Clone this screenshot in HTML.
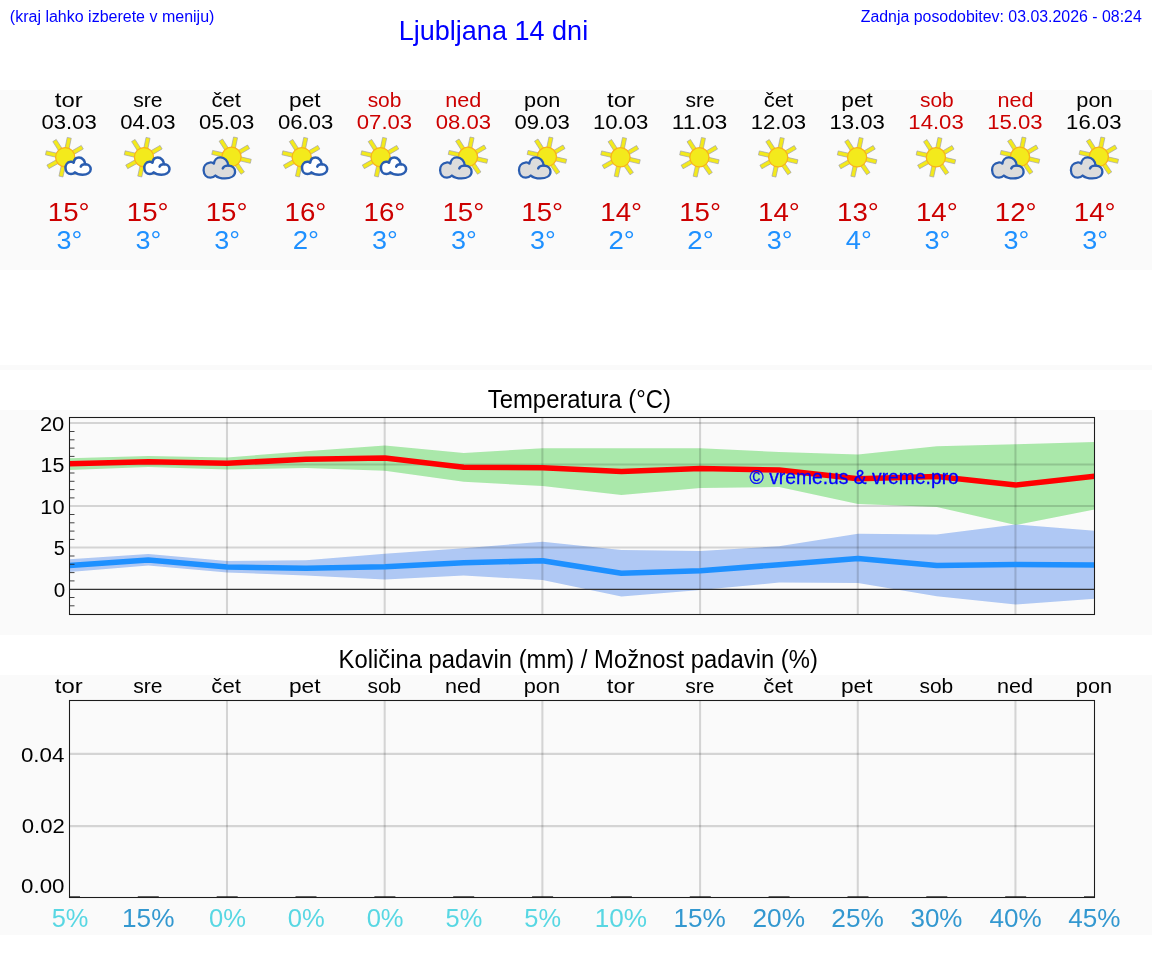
<!DOCTYPE html>
<html><head><meta charset="utf-8"><title>Ljubljana 14 dni</title>
<style>
html,body{margin:0;padding:0;background:#fff}
body{width:1152px;height:975px;position:relative;overflow:hidden;font-family:"Liberation Sans",sans-serif}
.b{position:absolute;left:0;width:1152px;background:#fafafa}
#tx{position:absolute;left:0;top:0;width:1152px;height:975px;will-change:transform}
.t{position:absolute;left:0;top:0;white-space:nowrap;transform-origin:0 0;font-family:"Liberation Sans",sans-serif}
svg{position:absolute;left:0;top:0}
</style></head><body>
<div class="b" style="top:90px;height:180px"></div>
<div class="b" style="top:365px;height:5px"></div>
<div class="b" style="top:410px;height:225px"></div>
<div class="b" style="top:675px;height:260px"></div>
<svg width="1152" height="975" viewBox="0 0 1152 975">
<clipPath id="cl"><rect x="69.5" y="417.5" width="1025.0" height="197.0"/></clipPath>
<g clip-path="url(#cl)">
<polygon points="69.5,458.25 148.3,455.9 227.2,457.5 306.0,451.25 384.9,445.5 463.7,453 542.6,448.25 621.4,448.25 700.3,448.25 779.1,452 858.0,454.5 936.8,446.25 1015.7,444.25 1094.5,442 1094.5,509.5 1015.7,525 936.8,507 858.0,504 779.1,487 700.3,488 621.4,495 542.6,486 463.7,481.75 384.9,470.75 306.0,468 227.2,469.5 148.3,467 69.5,470" fill="#32cd32" fill-opacity="0.4"/>
<polygon points="69.5,559.25 148.3,554 227.2,561 306.0,560.25 384.9,553.75 463.7,548.25 542.6,541.75 621.4,550 700.3,551 779.1,546.25 858.0,533.75 936.8,534.5 1015.7,524.5 1094.5,530.75 1094.5,598.75 1015.7,604.5 936.8,596.25 858.0,583 779.1,582.5 700.3,590 621.4,596.5 542.6,580 463.7,575.5 384.9,579.5 306.0,575.5 227.2,572.5 148.3,565.5 69.5,572" fill="#6495ed" fill-opacity="0.5"/>
<line x1="69.5" x2="1094.5" y1="547.50" y2="547.50" stroke="#000" stroke-opacity="0.15" stroke-width="2.08"/>
<line x1="69.5" x2="1094.5" y1="506.00" y2="506.00" stroke="#000" stroke-opacity="0.15" stroke-width="2.08"/>
<line x1="69.5" x2="1094.5" y1="464.50" y2="464.50" stroke="#000" stroke-opacity="0.15" stroke-width="2.08"/>
<line x1="69.5" x2="1094.5" y1="423.00" y2="423.00" stroke="#000" stroke-opacity="0.15" stroke-width="2.08"/>
<line x1="226.99" x2="226.99" y1="417.5" y2="614.5" stroke="#000" stroke-opacity="0.15" stroke-width="2.08"/>
<line x1="384.68" x2="384.68" y1="417.5" y2="614.5" stroke="#000" stroke-opacity="0.15" stroke-width="2.08"/>
<line x1="542.38" x2="542.38" y1="417.5" y2="614.5" stroke="#000" stroke-opacity="0.15" stroke-width="2.08"/>
<line x1="700.07" x2="700.07" y1="417.5" y2="614.5" stroke="#000" stroke-opacity="0.15" stroke-width="2.08"/>
<line x1="857.76" x2="857.76" y1="417.5" y2="614.5" stroke="#000" stroke-opacity="0.15" stroke-width="2.08"/>
<line x1="1015.45" x2="1015.45" y1="417.5" y2="614.5" stroke="#000" stroke-opacity="0.15" stroke-width="2.08"/>
<line x1="69.5" x2="1094.5" y1="589.4" y2="589.4" stroke="#333" stroke-width="1.15"/>
<polyline points="69.5,463.75 148.3,461.65 227.2,463.25 306.0,459.25 384.9,458 463.7,467.25 542.6,467.75 621.4,471.5 700.3,468.5 779.1,470 858.0,478.75 936.8,476.5 1015.7,485 1094.5,476.25" fill="none" stroke="#ff0000" stroke-width="5.55" stroke-linejoin="round"/>
<polyline points="69.5,565.5 148.3,560 227.2,567 306.0,568.25 384.9,566.75 463.7,562.75 542.6,560.75 621.4,573.25 700.3,570.75 779.1,564.75 858.0,558.5 936.8,565.5 1015.7,564.5 1094.5,565" fill="none" stroke="#1e90ff" stroke-width="5.55" stroke-linejoin="round"/>
</g>
<line x1="69.5" x2="74.5" y1="605.80" y2="605.80" stroke="#222" stroke-width="0.85"/>
<line x1="69.5" x2="74.5" y1="597.50" y2="597.50" stroke="#222" stroke-width="0.85"/>
<line x1="69.5" x2="74.5" y1="580.90" y2="580.90" stroke="#222" stroke-width="0.85"/>
<line x1="69.5" x2="74.5" y1="572.60" y2="572.60" stroke="#222" stroke-width="0.85"/>
<line x1="69.5" x2="74.5" y1="564.30" y2="564.30" stroke="#222" stroke-width="0.85"/>
<line x1="69.5" x2="74.5" y1="556.00" y2="556.00" stroke="#222" stroke-width="0.85"/>
<line x1="69.5" x2="74.5" y1="539.40" y2="539.40" stroke="#222" stroke-width="0.85"/>
<line x1="69.5" x2="74.5" y1="531.10" y2="531.10" stroke="#222" stroke-width="0.85"/>
<line x1="69.5" x2="74.5" y1="522.80" y2="522.80" stroke="#222" stroke-width="0.85"/>
<line x1="69.5" x2="74.5" y1="514.50" y2="514.50" stroke="#222" stroke-width="0.85"/>
<line x1="69.5" x2="74.5" y1="497.90" y2="497.90" stroke="#222" stroke-width="0.85"/>
<line x1="69.5" x2="74.5" y1="489.60" y2="489.60" stroke="#222" stroke-width="0.85"/>
<line x1="69.5" x2="74.5" y1="481.30" y2="481.30" stroke="#222" stroke-width="0.85"/>
<line x1="69.5" x2="74.5" y1="473.00" y2="473.00" stroke="#222" stroke-width="0.85"/>
<line x1="69.5" x2="74.5" y1="456.40" y2="456.40" stroke="#222" stroke-width="0.85"/>
<line x1="69.5" x2="74.5" y1="448.10" y2="448.10" stroke="#222" stroke-width="0.85"/>
<line x1="69.5" x2="74.5" y1="439.80" y2="439.80" stroke="#222" stroke-width="0.85"/>
<line x1="69.5" x2="74.5" y1="431.50" y2="431.50" stroke="#222" stroke-width="0.85"/>
<rect x="69.5" y="417.5" width="1025.0" height="197.0" fill="none" stroke="#1c1c1c" stroke-width="1.08"/>
<line x1="69.5" x2="1094.5" y1="753.9" y2="753.9" stroke="#000" stroke-opacity="0.15" stroke-width="2.08"/>
<line x1="69.5" x2="1094.5" y1="826.1" y2="826.1" stroke="#000" stroke-opacity="0.15" stroke-width="2.08"/>
<line x1="226.99" x2="226.99" y1="700.5" y2="897.5" stroke="#000" stroke-opacity="0.15" stroke-width="2.08"/>
<line x1="384.68" x2="384.68" y1="700.5" y2="897.5" stroke="#000" stroke-opacity="0.15" stroke-width="2.08"/>
<line x1="542.38" x2="542.38" y1="700.5" y2="897.5" stroke="#000" stroke-opacity="0.15" stroke-width="2.08"/>
<line x1="700.07" x2="700.07" y1="700.5" y2="897.5" stroke="#000" stroke-opacity="0.15" stroke-width="2.08"/>
<line x1="857.76" x2="857.76" y1="700.5" y2="897.5" stroke="#000" stroke-opacity="0.15" stroke-width="2.08"/>
<line x1="1015.45" x2="1015.45" y1="700.5" y2="897.5" stroke="#000" stroke-opacity="0.15" stroke-width="2.08"/>
<line x1="69.5" x2="80.0" y1="896.7" y2="896.7" stroke="#111" stroke-width="0.8"/>
<line x1="137.8" x2="158.8" y1="896.7" y2="896.7" stroke="#111" stroke-width="0.8"/>
<line x1="216.7" x2="237.7" y1="896.7" y2="896.7" stroke="#111" stroke-width="0.8"/>
<line x1="295.5" x2="316.5" y1="896.7" y2="896.7" stroke="#111" stroke-width="0.8"/>
<line x1="374.4" x2="395.4" y1="896.7" y2="896.7" stroke="#111" stroke-width="0.8"/>
<line x1="453.2" x2="474.2" y1="896.7" y2="896.7" stroke="#111" stroke-width="0.8"/>
<line x1="532.1" x2="553.1" y1="896.7" y2="896.7" stroke="#111" stroke-width="0.8"/>
<line x1="610.9" x2="631.9" y1="896.7" y2="896.7" stroke="#111" stroke-width="0.8"/>
<line x1="689.8" x2="710.8" y1="896.7" y2="896.7" stroke="#111" stroke-width="0.8"/>
<line x1="768.6" x2="789.6" y1="896.7" y2="896.7" stroke="#111" stroke-width="0.8"/>
<line x1="847.5" x2="868.5" y1="896.7" y2="896.7" stroke="#111" stroke-width="0.8"/>
<line x1="926.3" x2="947.3" y1="896.7" y2="896.7" stroke="#111" stroke-width="0.8"/>
<line x1="1005.2" x2="1026.2" y1="896.7" y2="896.7" stroke="#111" stroke-width="0.8"/>
<line x1="1084.0" x2="1094.5" y1="896.7" y2="896.7" stroke="#111" stroke-width="0.8"/>
<rect x="69.5" y="700.5" width="1025.0" height="197.0" fill="none" stroke="#1c1c1c" stroke-width="1.08"/>
<g transform="translate(65.2,157.2)"><rect x="9.1" y="-2.05" width="10.70" height="4.1" fill="#f3ea1c" stroke="#9c9cae" stroke-opacity="0.75" stroke-width="0.8" transform="rotate(-78.2)"/><rect x="9.1" y="-2.05" width="10.70" height="4.1" fill="#f3ea1c" stroke="#9c9cae" stroke-opacity="0.75" stroke-width="0.8" transform="rotate(-30.3)"/><rect x="9.1" y="-2.05" width="10.70" height="4.1" fill="#f3ea1c" stroke="#9c9cae" stroke-opacity="0.75" stroke-width="0.8" transform="rotate(13.1)"/><rect x="9.1" y="-2.05" width="10.70" height="4.1" fill="#f3ea1c" stroke="#9c9cae" stroke-opacity="0.75" stroke-width="0.8" transform="rotate(55.5)"/><rect x="9.1" y="-2.05" width="10.70" height="4.1" fill="#f3ea1c" stroke="#9c9cae" stroke-opacity="0.75" stroke-width="0.8" transform="rotate(102.4)"/><rect x="9.1" y="-2.05" width="10.70" height="4.1" fill="#f3ea1c" stroke="#9c9cae" stroke-opacity="0.75" stroke-width="0.8" transform="rotate(150.8)"/><rect x="9.1" y="-2.05" width="10.70" height="4.1" fill="#f3ea1c" stroke="#9c9cae" stroke-opacity="0.75" stroke-width="0.8" transform="rotate(192.8)"/><rect x="9.1" y="-2.05" width="10.70" height="4.1" fill="#f3ea1c" stroke="#9c9cae" stroke-opacity="0.75" stroke-width="0.8" transform="rotate(237.4)"/><circle r="9.6" fill="#f3ea1c" stroke="#f9b31a" stroke-width="1.3"/></g>
<g transform="translate(65.5,157.6) scale(0.2520,0.2565)"><path d="M32.7,20 C29.1,16.4 24.2,15.2 19.4,16.4 C7.3,18.2 -0.6,28.5 0,40.6 C0.6,55.2 9.7,64.2 21.8,64.2 C28.5,64.2 33.9,61.8 37.6,57.6 C43.6,63 54.5,66.7 67.9,66.7 C86.1,66.7 100,58.8 100,45.5 C100,34.5 90.9,26.7 80,26.1 C78.8,26.1 78.2,25.5 77.6,24.2 C77,12.7 67.9,0 53.3,0 C41.2,0 33.9,9.1 32.7,20 Z" fill="#ffffff" stroke="#2a5db0" stroke-width="9.92" stroke-linejoin="round"/><path d="M80,26.1 C71.5,25.5 63,28.5 60.6,35.2" fill="none" stroke="#2a5db0" stroke-width="9.92" stroke-linecap="round"/></g>
<g transform="translate(144.0,157.2)"><rect x="9.1" y="-2.05" width="10.70" height="4.1" fill="#f3ea1c" stroke="#9c9cae" stroke-opacity="0.75" stroke-width="0.8" transform="rotate(-78.2)"/><rect x="9.1" y="-2.05" width="10.70" height="4.1" fill="#f3ea1c" stroke="#9c9cae" stroke-opacity="0.75" stroke-width="0.8" transform="rotate(-30.3)"/><rect x="9.1" y="-2.05" width="10.70" height="4.1" fill="#f3ea1c" stroke="#9c9cae" stroke-opacity="0.75" stroke-width="0.8" transform="rotate(13.1)"/><rect x="9.1" y="-2.05" width="10.70" height="4.1" fill="#f3ea1c" stroke="#9c9cae" stroke-opacity="0.75" stroke-width="0.8" transform="rotate(55.5)"/><rect x="9.1" y="-2.05" width="10.70" height="4.1" fill="#f3ea1c" stroke="#9c9cae" stroke-opacity="0.75" stroke-width="0.8" transform="rotate(102.4)"/><rect x="9.1" y="-2.05" width="10.70" height="4.1" fill="#f3ea1c" stroke="#9c9cae" stroke-opacity="0.75" stroke-width="0.8" transform="rotate(150.8)"/><rect x="9.1" y="-2.05" width="10.70" height="4.1" fill="#f3ea1c" stroke="#9c9cae" stroke-opacity="0.75" stroke-width="0.8" transform="rotate(192.8)"/><rect x="9.1" y="-2.05" width="10.70" height="4.1" fill="#f3ea1c" stroke="#9c9cae" stroke-opacity="0.75" stroke-width="0.8" transform="rotate(237.4)"/><circle r="9.6" fill="#f3ea1c" stroke="#f9b31a" stroke-width="1.3"/></g>
<g transform="translate(144.3,157.6) scale(0.2520,0.2565)"><path d="M32.7,20 C29.1,16.4 24.2,15.2 19.4,16.4 C7.3,18.2 -0.6,28.5 0,40.6 C0.6,55.2 9.7,64.2 21.8,64.2 C28.5,64.2 33.9,61.8 37.6,57.6 C43.6,63 54.5,66.7 67.9,66.7 C86.1,66.7 100,58.8 100,45.5 C100,34.5 90.9,26.7 80,26.1 C78.8,26.1 78.2,25.5 77.6,24.2 C77,12.7 67.9,0 53.3,0 C41.2,0 33.9,9.1 32.7,20 Z" fill="#ffffff" stroke="#2a5db0" stroke-width="9.92" stroke-linejoin="round"/><path d="M80,26.1 C71.5,25.5 63,28.5 60.6,35.2" fill="none" stroke="#2a5db0" stroke-width="9.92" stroke-linecap="round"/></g>
<g transform="translate(231.5,156.8)"><rect x="9.1" y="-2.05" width="10.70" height="4.1" fill="#f3ea1c" stroke="#9c9cae" stroke-opacity="0.75" stroke-width="0.8" transform="rotate(-78.2)"/><rect x="9.1" y="-2.05" width="10.70" height="4.1" fill="#f3ea1c" stroke="#9c9cae" stroke-opacity="0.75" stroke-width="0.8" transform="rotate(-30.3)"/><rect x="9.1" y="-2.05" width="10.70" height="4.1" fill="#f3ea1c" stroke="#9c9cae" stroke-opacity="0.75" stroke-width="0.8" transform="rotate(13.1)"/><rect x="9.1" y="-2.05" width="10.70" height="4.1" fill="#f3ea1c" stroke="#9c9cae" stroke-opacity="0.75" stroke-width="0.8" transform="rotate(55.5)"/><rect x="9.1" y="-2.05" width="10.70" height="4.1" fill="#f3ea1c" stroke="#9c9cae" stroke-opacity="0.75" stroke-width="0.8" transform="rotate(102.4)"/><rect x="9.1" y="-2.05" width="10.70" height="4.1" fill="#f3ea1c" stroke="#9c9cae" stroke-opacity="0.75" stroke-width="0.8" transform="rotate(150.8)"/><rect x="9.1" y="-2.05" width="10.70" height="4.1" fill="#f3ea1c" stroke="#9c9cae" stroke-opacity="0.75" stroke-width="0.8" transform="rotate(192.8)"/><rect x="9.1" y="-2.05" width="10.70" height="4.1" fill="#f3ea1c" stroke="#9c9cae" stroke-opacity="0.75" stroke-width="0.8" transform="rotate(237.4)"/><circle r="9.6" fill="#f3ea1c" stroke="#f9b31a" stroke-width="1.3"/></g>
<g transform="translate(203.6,157.4) scale(0.3150,0.3150)"><path d="M32.7,20 C29.1,16.4 24.2,15.2 19.4,16.4 C7.3,18.2 -0.6,28.5 0,40.6 C0.6,55.2 9.7,64.2 21.8,64.2 C28.5,64.2 33.9,61.8 37.6,57.6 C43.6,63 54.5,66.7 67.9,66.7 C86.1,66.7 100,58.8 100,45.5 C100,34.5 90.9,26.7 80,26.1 C78.8,26.1 78.2,25.5 77.6,24.2 C77,12.7 67.9,0 53.3,0 C41.2,0 33.9,9.1 32.7,20 Z" fill="#dcdcdc" stroke="#2a5db0" stroke-width="7.30" stroke-linejoin="round"/><path d="M80,26.1 C71.5,25.5 63,28.5 60.6,35.2" fill="none" stroke="#2a5db0" stroke-width="7.30" stroke-linecap="round"/></g>
<g transform="translate(301.7,157.2)"><rect x="9.1" y="-2.05" width="10.70" height="4.1" fill="#f3ea1c" stroke="#9c9cae" stroke-opacity="0.75" stroke-width="0.8" transform="rotate(-78.2)"/><rect x="9.1" y="-2.05" width="10.70" height="4.1" fill="#f3ea1c" stroke="#9c9cae" stroke-opacity="0.75" stroke-width="0.8" transform="rotate(-30.3)"/><rect x="9.1" y="-2.05" width="10.70" height="4.1" fill="#f3ea1c" stroke="#9c9cae" stroke-opacity="0.75" stroke-width="0.8" transform="rotate(13.1)"/><rect x="9.1" y="-2.05" width="10.70" height="4.1" fill="#f3ea1c" stroke="#9c9cae" stroke-opacity="0.75" stroke-width="0.8" transform="rotate(55.5)"/><rect x="9.1" y="-2.05" width="10.70" height="4.1" fill="#f3ea1c" stroke="#9c9cae" stroke-opacity="0.75" stroke-width="0.8" transform="rotate(102.4)"/><rect x="9.1" y="-2.05" width="10.70" height="4.1" fill="#f3ea1c" stroke="#9c9cae" stroke-opacity="0.75" stroke-width="0.8" transform="rotate(150.8)"/><rect x="9.1" y="-2.05" width="10.70" height="4.1" fill="#f3ea1c" stroke="#9c9cae" stroke-opacity="0.75" stroke-width="0.8" transform="rotate(192.8)"/><rect x="9.1" y="-2.05" width="10.70" height="4.1" fill="#f3ea1c" stroke="#9c9cae" stroke-opacity="0.75" stroke-width="0.8" transform="rotate(237.4)"/><circle r="9.6" fill="#f3ea1c" stroke="#f9b31a" stroke-width="1.3"/></g>
<g transform="translate(302.0,157.6) scale(0.2520,0.2565)"><path d="M32.7,20 C29.1,16.4 24.2,15.2 19.4,16.4 C7.3,18.2 -0.6,28.5 0,40.6 C0.6,55.2 9.7,64.2 21.8,64.2 C28.5,64.2 33.9,61.8 37.6,57.6 C43.6,63 54.5,66.7 67.9,66.7 C86.1,66.7 100,58.8 100,45.5 C100,34.5 90.9,26.7 80,26.1 C78.8,26.1 78.2,25.5 77.6,24.2 C77,12.7 67.9,0 53.3,0 C41.2,0 33.9,9.1 32.7,20 Z" fill="#ffffff" stroke="#2a5db0" stroke-width="9.92" stroke-linejoin="round"/><path d="M80,26.1 C71.5,25.5 63,28.5 60.6,35.2" fill="none" stroke="#2a5db0" stroke-width="9.92" stroke-linecap="round"/></g>
<g transform="translate(380.6,157.2)"><rect x="9.1" y="-2.05" width="10.70" height="4.1" fill="#f3ea1c" stroke="#9c9cae" stroke-opacity="0.75" stroke-width="0.8" transform="rotate(-78.2)"/><rect x="9.1" y="-2.05" width="10.70" height="4.1" fill="#f3ea1c" stroke="#9c9cae" stroke-opacity="0.75" stroke-width="0.8" transform="rotate(-30.3)"/><rect x="9.1" y="-2.05" width="10.70" height="4.1" fill="#f3ea1c" stroke="#9c9cae" stroke-opacity="0.75" stroke-width="0.8" transform="rotate(13.1)"/><rect x="9.1" y="-2.05" width="10.70" height="4.1" fill="#f3ea1c" stroke="#9c9cae" stroke-opacity="0.75" stroke-width="0.8" transform="rotate(55.5)"/><rect x="9.1" y="-2.05" width="10.70" height="4.1" fill="#f3ea1c" stroke="#9c9cae" stroke-opacity="0.75" stroke-width="0.8" transform="rotate(102.4)"/><rect x="9.1" y="-2.05" width="10.70" height="4.1" fill="#f3ea1c" stroke="#9c9cae" stroke-opacity="0.75" stroke-width="0.8" transform="rotate(150.8)"/><rect x="9.1" y="-2.05" width="10.70" height="4.1" fill="#f3ea1c" stroke="#9c9cae" stroke-opacity="0.75" stroke-width="0.8" transform="rotate(192.8)"/><rect x="9.1" y="-2.05" width="10.70" height="4.1" fill="#f3ea1c" stroke="#9c9cae" stroke-opacity="0.75" stroke-width="0.8" transform="rotate(237.4)"/><circle r="9.6" fill="#f3ea1c" stroke="#f9b31a" stroke-width="1.3"/></g>
<g transform="translate(380.9,157.6) scale(0.2520,0.2565)"><path d="M32.7,20 C29.1,16.4 24.2,15.2 19.4,16.4 C7.3,18.2 -0.6,28.5 0,40.6 C0.6,55.2 9.7,64.2 21.8,64.2 C28.5,64.2 33.9,61.8 37.6,57.6 C43.6,63 54.5,66.7 67.9,66.7 C86.1,66.7 100,58.8 100,45.5 C100,34.5 90.9,26.7 80,26.1 C78.8,26.1 78.2,25.5 77.6,24.2 C77,12.7 67.9,0 53.3,0 C41.2,0 33.9,9.1 32.7,20 Z" fill="#ffffff" stroke="#2a5db0" stroke-width="9.92" stroke-linejoin="round"/><path d="M80,26.1 C71.5,25.5 63,28.5 60.6,35.2" fill="none" stroke="#2a5db0" stroke-width="9.92" stroke-linecap="round"/></g>
<g transform="translate(468.0,156.8)"><rect x="9.1" y="-2.05" width="10.70" height="4.1" fill="#f3ea1c" stroke="#9c9cae" stroke-opacity="0.75" stroke-width="0.8" transform="rotate(-78.2)"/><rect x="9.1" y="-2.05" width="10.70" height="4.1" fill="#f3ea1c" stroke="#9c9cae" stroke-opacity="0.75" stroke-width="0.8" transform="rotate(-30.3)"/><rect x="9.1" y="-2.05" width="10.70" height="4.1" fill="#f3ea1c" stroke="#9c9cae" stroke-opacity="0.75" stroke-width="0.8" transform="rotate(13.1)"/><rect x="9.1" y="-2.05" width="10.70" height="4.1" fill="#f3ea1c" stroke="#9c9cae" stroke-opacity="0.75" stroke-width="0.8" transform="rotate(55.5)"/><rect x="9.1" y="-2.05" width="10.70" height="4.1" fill="#f3ea1c" stroke="#9c9cae" stroke-opacity="0.75" stroke-width="0.8" transform="rotate(102.4)"/><rect x="9.1" y="-2.05" width="10.70" height="4.1" fill="#f3ea1c" stroke="#9c9cae" stroke-opacity="0.75" stroke-width="0.8" transform="rotate(150.8)"/><rect x="9.1" y="-2.05" width="10.70" height="4.1" fill="#f3ea1c" stroke="#9c9cae" stroke-opacity="0.75" stroke-width="0.8" transform="rotate(192.8)"/><rect x="9.1" y="-2.05" width="10.70" height="4.1" fill="#f3ea1c" stroke="#9c9cae" stroke-opacity="0.75" stroke-width="0.8" transform="rotate(237.4)"/><circle r="9.6" fill="#f3ea1c" stroke="#f9b31a" stroke-width="1.3"/></g>
<g transform="translate(440.1,157.4) scale(0.3150,0.3150)"><path d="M32.7,20 C29.1,16.4 24.2,15.2 19.4,16.4 C7.3,18.2 -0.6,28.5 0,40.6 C0.6,55.2 9.7,64.2 21.8,64.2 C28.5,64.2 33.9,61.8 37.6,57.6 C43.6,63 54.5,66.7 67.9,66.7 C86.1,66.7 100,58.8 100,45.5 C100,34.5 90.9,26.7 80,26.1 C78.8,26.1 78.2,25.5 77.6,24.2 C77,12.7 67.9,0 53.3,0 C41.2,0 33.9,9.1 32.7,20 Z" fill="#dcdcdc" stroke="#2a5db0" stroke-width="7.30" stroke-linejoin="round"/><path d="M80,26.1 C71.5,25.5 63,28.5 60.6,35.2" fill="none" stroke="#2a5db0" stroke-width="7.30" stroke-linecap="round"/></g>
<g transform="translate(546.9,156.8)"><rect x="9.1" y="-2.05" width="10.70" height="4.1" fill="#f3ea1c" stroke="#9c9cae" stroke-opacity="0.75" stroke-width="0.8" transform="rotate(-78.2)"/><rect x="9.1" y="-2.05" width="10.70" height="4.1" fill="#f3ea1c" stroke="#9c9cae" stroke-opacity="0.75" stroke-width="0.8" transform="rotate(-30.3)"/><rect x="9.1" y="-2.05" width="10.70" height="4.1" fill="#f3ea1c" stroke="#9c9cae" stroke-opacity="0.75" stroke-width="0.8" transform="rotate(13.1)"/><rect x="9.1" y="-2.05" width="10.70" height="4.1" fill="#f3ea1c" stroke="#9c9cae" stroke-opacity="0.75" stroke-width="0.8" transform="rotate(55.5)"/><rect x="9.1" y="-2.05" width="10.70" height="4.1" fill="#f3ea1c" stroke="#9c9cae" stroke-opacity="0.75" stroke-width="0.8" transform="rotate(102.4)"/><rect x="9.1" y="-2.05" width="10.70" height="4.1" fill="#f3ea1c" stroke="#9c9cae" stroke-opacity="0.75" stroke-width="0.8" transform="rotate(150.8)"/><rect x="9.1" y="-2.05" width="10.70" height="4.1" fill="#f3ea1c" stroke="#9c9cae" stroke-opacity="0.75" stroke-width="0.8" transform="rotate(192.8)"/><rect x="9.1" y="-2.05" width="10.70" height="4.1" fill="#f3ea1c" stroke="#9c9cae" stroke-opacity="0.75" stroke-width="0.8" transform="rotate(237.4)"/><circle r="9.6" fill="#f3ea1c" stroke="#f9b31a" stroke-width="1.3"/></g>
<g transform="translate(519.0,157.4) scale(0.3150,0.3150)"><path d="M32.7,20 C29.1,16.4 24.2,15.2 19.4,16.4 C7.3,18.2 -0.6,28.5 0,40.6 C0.6,55.2 9.7,64.2 21.8,64.2 C28.5,64.2 33.9,61.8 37.6,57.6 C43.6,63 54.5,66.7 67.9,66.7 C86.1,66.7 100,58.8 100,45.5 C100,34.5 90.9,26.7 80,26.1 C78.8,26.1 78.2,25.5 77.6,24.2 C77,12.7 67.9,0 53.3,0 C41.2,0 33.9,9.1 32.7,20 Z" fill="#dcdcdc" stroke="#2a5db0" stroke-width="7.30" stroke-linejoin="round"/><path d="M80,26.1 C71.5,25.5 63,28.5 60.6,35.2" fill="none" stroke="#2a5db0" stroke-width="7.30" stroke-linecap="round"/></g>
<g transform="translate(620.5,157.3)"><rect x="9.1" y="-2.05" width="10.70" height="4.1" fill="#f3ea1c" stroke="#9c9cae" stroke-opacity="0.75" stroke-width="0.8" transform="rotate(-78.2)"/><rect x="9.1" y="-2.05" width="10.70" height="4.1" fill="#f3ea1c" stroke="#9c9cae" stroke-opacity="0.75" stroke-width="0.8" transform="rotate(-30.3)"/><rect x="9.1" y="-2.05" width="10.70" height="4.1" fill="#f3ea1c" stroke="#9c9cae" stroke-opacity="0.75" stroke-width="0.8" transform="rotate(13.1)"/><rect x="9.1" y="-2.05" width="10.70" height="4.1" fill="#f3ea1c" stroke="#9c9cae" stroke-opacity="0.75" stroke-width="0.8" transform="rotate(55.5)"/><rect x="9.1" y="-2.05" width="10.70" height="4.1" fill="#f3ea1c" stroke="#9c9cae" stroke-opacity="0.75" stroke-width="0.8" transform="rotate(102.4)"/><rect x="9.1" y="-2.05" width="10.70" height="4.1" fill="#f3ea1c" stroke="#9c9cae" stroke-opacity="0.75" stroke-width="0.8" transform="rotate(150.8)"/><rect x="9.1" y="-2.05" width="10.70" height="4.1" fill="#f3ea1c" stroke="#9c9cae" stroke-opacity="0.75" stroke-width="0.8" transform="rotate(192.8)"/><rect x="9.1" y="-2.05" width="10.70" height="4.1" fill="#f3ea1c" stroke="#9c9cae" stroke-opacity="0.75" stroke-width="0.8" transform="rotate(237.4)"/><circle r="9.6" fill="#f3ea1c" stroke="#f9b31a" stroke-width="1.3"/></g>
<g transform="translate(699.4,157.3)"><rect x="9.1" y="-2.05" width="10.70" height="4.1" fill="#f3ea1c" stroke="#9c9cae" stroke-opacity="0.75" stroke-width="0.8" transform="rotate(-78.2)"/><rect x="9.1" y="-2.05" width="10.70" height="4.1" fill="#f3ea1c" stroke="#9c9cae" stroke-opacity="0.75" stroke-width="0.8" transform="rotate(-30.3)"/><rect x="9.1" y="-2.05" width="10.70" height="4.1" fill="#f3ea1c" stroke="#9c9cae" stroke-opacity="0.75" stroke-width="0.8" transform="rotate(13.1)"/><rect x="9.1" y="-2.05" width="10.70" height="4.1" fill="#f3ea1c" stroke="#9c9cae" stroke-opacity="0.75" stroke-width="0.8" transform="rotate(55.5)"/><rect x="9.1" y="-2.05" width="10.70" height="4.1" fill="#f3ea1c" stroke="#9c9cae" stroke-opacity="0.75" stroke-width="0.8" transform="rotate(102.4)"/><rect x="9.1" y="-2.05" width="10.70" height="4.1" fill="#f3ea1c" stroke="#9c9cae" stroke-opacity="0.75" stroke-width="0.8" transform="rotate(150.8)"/><rect x="9.1" y="-2.05" width="10.70" height="4.1" fill="#f3ea1c" stroke="#9c9cae" stroke-opacity="0.75" stroke-width="0.8" transform="rotate(192.8)"/><rect x="9.1" y="-2.05" width="10.70" height="4.1" fill="#f3ea1c" stroke="#9c9cae" stroke-opacity="0.75" stroke-width="0.8" transform="rotate(237.4)"/><circle r="9.6" fill="#f3ea1c" stroke="#f9b31a" stroke-width="1.3"/></g>
<g transform="translate(778.2,157.3)"><rect x="9.1" y="-2.05" width="10.70" height="4.1" fill="#f3ea1c" stroke="#9c9cae" stroke-opacity="0.75" stroke-width="0.8" transform="rotate(-78.2)"/><rect x="9.1" y="-2.05" width="10.70" height="4.1" fill="#f3ea1c" stroke="#9c9cae" stroke-opacity="0.75" stroke-width="0.8" transform="rotate(-30.3)"/><rect x="9.1" y="-2.05" width="10.70" height="4.1" fill="#f3ea1c" stroke="#9c9cae" stroke-opacity="0.75" stroke-width="0.8" transform="rotate(13.1)"/><rect x="9.1" y="-2.05" width="10.70" height="4.1" fill="#f3ea1c" stroke="#9c9cae" stroke-opacity="0.75" stroke-width="0.8" transform="rotate(55.5)"/><rect x="9.1" y="-2.05" width="10.70" height="4.1" fill="#f3ea1c" stroke="#9c9cae" stroke-opacity="0.75" stroke-width="0.8" transform="rotate(102.4)"/><rect x="9.1" y="-2.05" width="10.70" height="4.1" fill="#f3ea1c" stroke="#9c9cae" stroke-opacity="0.75" stroke-width="0.8" transform="rotate(150.8)"/><rect x="9.1" y="-2.05" width="10.70" height="4.1" fill="#f3ea1c" stroke="#9c9cae" stroke-opacity="0.75" stroke-width="0.8" transform="rotate(192.8)"/><rect x="9.1" y="-2.05" width="10.70" height="4.1" fill="#f3ea1c" stroke="#9c9cae" stroke-opacity="0.75" stroke-width="0.8" transform="rotate(237.4)"/><circle r="9.6" fill="#f3ea1c" stroke="#f9b31a" stroke-width="1.3"/></g>
<g transform="translate(857.1,157.3)"><rect x="9.1" y="-2.05" width="10.70" height="4.1" fill="#f3ea1c" stroke="#9c9cae" stroke-opacity="0.75" stroke-width="0.8" transform="rotate(-78.2)"/><rect x="9.1" y="-2.05" width="10.70" height="4.1" fill="#f3ea1c" stroke="#9c9cae" stroke-opacity="0.75" stroke-width="0.8" transform="rotate(-30.3)"/><rect x="9.1" y="-2.05" width="10.70" height="4.1" fill="#f3ea1c" stroke="#9c9cae" stroke-opacity="0.75" stroke-width="0.8" transform="rotate(13.1)"/><rect x="9.1" y="-2.05" width="10.70" height="4.1" fill="#f3ea1c" stroke="#9c9cae" stroke-opacity="0.75" stroke-width="0.8" transform="rotate(55.5)"/><rect x="9.1" y="-2.05" width="10.70" height="4.1" fill="#f3ea1c" stroke="#9c9cae" stroke-opacity="0.75" stroke-width="0.8" transform="rotate(102.4)"/><rect x="9.1" y="-2.05" width="10.70" height="4.1" fill="#f3ea1c" stroke="#9c9cae" stroke-opacity="0.75" stroke-width="0.8" transform="rotate(150.8)"/><rect x="9.1" y="-2.05" width="10.70" height="4.1" fill="#f3ea1c" stroke="#9c9cae" stroke-opacity="0.75" stroke-width="0.8" transform="rotate(192.8)"/><rect x="9.1" y="-2.05" width="10.70" height="4.1" fill="#f3ea1c" stroke="#9c9cae" stroke-opacity="0.75" stroke-width="0.8" transform="rotate(237.4)"/><circle r="9.6" fill="#f3ea1c" stroke="#f9b31a" stroke-width="1.3"/></g>
<g transform="translate(935.9,157.3)"><rect x="9.1" y="-2.05" width="10.70" height="4.1" fill="#f3ea1c" stroke="#9c9cae" stroke-opacity="0.75" stroke-width="0.8" transform="rotate(-78.2)"/><rect x="9.1" y="-2.05" width="10.70" height="4.1" fill="#f3ea1c" stroke="#9c9cae" stroke-opacity="0.75" stroke-width="0.8" transform="rotate(-30.3)"/><rect x="9.1" y="-2.05" width="10.70" height="4.1" fill="#f3ea1c" stroke="#9c9cae" stroke-opacity="0.75" stroke-width="0.8" transform="rotate(13.1)"/><rect x="9.1" y="-2.05" width="10.70" height="4.1" fill="#f3ea1c" stroke="#9c9cae" stroke-opacity="0.75" stroke-width="0.8" transform="rotate(55.5)"/><rect x="9.1" y="-2.05" width="10.70" height="4.1" fill="#f3ea1c" stroke="#9c9cae" stroke-opacity="0.75" stroke-width="0.8" transform="rotate(102.4)"/><rect x="9.1" y="-2.05" width="10.70" height="4.1" fill="#f3ea1c" stroke="#9c9cae" stroke-opacity="0.75" stroke-width="0.8" transform="rotate(150.8)"/><rect x="9.1" y="-2.05" width="10.70" height="4.1" fill="#f3ea1c" stroke="#9c9cae" stroke-opacity="0.75" stroke-width="0.8" transform="rotate(192.8)"/><rect x="9.1" y="-2.05" width="10.70" height="4.1" fill="#f3ea1c" stroke="#9c9cae" stroke-opacity="0.75" stroke-width="0.8" transform="rotate(237.4)"/><circle r="9.6" fill="#f3ea1c" stroke="#f9b31a" stroke-width="1.3"/></g>
<g transform="translate(1020.0,156.8)"><rect x="9.1" y="-2.05" width="10.70" height="4.1" fill="#f3ea1c" stroke="#9c9cae" stroke-opacity="0.75" stroke-width="0.8" transform="rotate(-78.2)"/><rect x="9.1" y="-2.05" width="10.70" height="4.1" fill="#f3ea1c" stroke="#9c9cae" stroke-opacity="0.75" stroke-width="0.8" transform="rotate(-30.3)"/><rect x="9.1" y="-2.05" width="10.70" height="4.1" fill="#f3ea1c" stroke="#9c9cae" stroke-opacity="0.75" stroke-width="0.8" transform="rotate(13.1)"/><rect x="9.1" y="-2.05" width="10.70" height="4.1" fill="#f3ea1c" stroke="#9c9cae" stroke-opacity="0.75" stroke-width="0.8" transform="rotate(55.5)"/><rect x="9.1" y="-2.05" width="10.70" height="4.1" fill="#f3ea1c" stroke="#9c9cae" stroke-opacity="0.75" stroke-width="0.8" transform="rotate(102.4)"/><rect x="9.1" y="-2.05" width="10.70" height="4.1" fill="#f3ea1c" stroke="#9c9cae" stroke-opacity="0.75" stroke-width="0.8" transform="rotate(150.8)"/><rect x="9.1" y="-2.05" width="10.70" height="4.1" fill="#f3ea1c" stroke="#9c9cae" stroke-opacity="0.75" stroke-width="0.8" transform="rotate(192.8)"/><rect x="9.1" y="-2.05" width="10.70" height="4.1" fill="#f3ea1c" stroke="#9c9cae" stroke-opacity="0.75" stroke-width="0.8" transform="rotate(237.4)"/><circle r="9.6" fill="#f3ea1c" stroke="#f9b31a" stroke-width="1.3"/></g>
<g transform="translate(992.1,157.4) scale(0.3150,0.3150)"><path d="M32.7,20 C29.1,16.4 24.2,15.2 19.4,16.4 C7.3,18.2 -0.6,28.5 0,40.6 C0.6,55.2 9.7,64.2 21.8,64.2 C28.5,64.2 33.9,61.8 37.6,57.6 C43.6,63 54.5,66.7 67.9,66.7 C86.1,66.7 100,58.8 100,45.5 C100,34.5 90.9,26.7 80,26.1 C78.8,26.1 78.2,25.5 77.6,24.2 C77,12.7 67.9,0 53.3,0 C41.2,0 33.9,9.1 32.7,20 Z" fill="#dcdcdc" stroke="#2a5db0" stroke-width="7.30" stroke-linejoin="round"/><path d="M80,26.1 C71.5,25.5 63,28.5 60.6,35.2" fill="none" stroke="#2a5db0" stroke-width="7.30" stroke-linecap="round"/></g>
<g transform="translate(1098.8,156.8)"><rect x="9.1" y="-2.05" width="10.70" height="4.1" fill="#f3ea1c" stroke="#9c9cae" stroke-opacity="0.75" stroke-width="0.8" transform="rotate(-78.2)"/><rect x="9.1" y="-2.05" width="10.70" height="4.1" fill="#f3ea1c" stroke="#9c9cae" stroke-opacity="0.75" stroke-width="0.8" transform="rotate(-30.3)"/><rect x="9.1" y="-2.05" width="10.70" height="4.1" fill="#f3ea1c" stroke="#9c9cae" stroke-opacity="0.75" stroke-width="0.8" transform="rotate(13.1)"/><rect x="9.1" y="-2.05" width="10.70" height="4.1" fill="#f3ea1c" stroke="#9c9cae" stroke-opacity="0.75" stroke-width="0.8" transform="rotate(55.5)"/><rect x="9.1" y="-2.05" width="10.70" height="4.1" fill="#f3ea1c" stroke="#9c9cae" stroke-opacity="0.75" stroke-width="0.8" transform="rotate(102.4)"/><rect x="9.1" y="-2.05" width="10.70" height="4.1" fill="#f3ea1c" stroke="#9c9cae" stroke-opacity="0.75" stroke-width="0.8" transform="rotate(150.8)"/><rect x="9.1" y="-2.05" width="10.70" height="4.1" fill="#f3ea1c" stroke="#9c9cae" stroke-opacity="0.75" stroke-width="0.8" transform="rotate(192.8)"/><rect x="9.1" y="-2.05" width="10.70" height="4.1" fill="#f3ea1c" stroke="#9c9cae" stroke-opacity="0.75" stroke-width="0.8" transform="rotate(237.4)"/><circle r="9.6" fill="#f3ea1c" stroke="#f9b31a" stroke-width="1.3"/></g>
<g transform="translate(1070.9,157.4) scale(0.3150,0.3150)"><path d="M32.7,20 C29.1,16.4 24.2,15.2 19.4,16.4 C7.3,18.2 -0.6,28.5 0,40.6 C0.6,55.2 9.7,64.2 21.8,64.2 C28.5,64.2 33.9,61.8 37.6,57.6 C43.6,63 54.5,66.7 67.9,66.7 C86.1,66.7 100,58.8 100,45.5 C100,34.5 90.9,26.7 80,26.1 C78.8,26.1 78.2,25.5 77.6,24.2 C77,12.7 67.9,0 53.3,0 C41.2,0 33.9,9.1 32.7,20 Z" fill="#dcdcdc" stroke="#2a5db0" stroke-width="7.30" stroke-linejoin="round"/><path d="M80,26.1 C71.5,25.5 63,28.5 60.6,35.2" fill="none" stroke="#2a5db0" stroke-width="7.30" stroke-linecap="round"/></g>
</svg>
<div id="tx">
<div class="t" style="font-size:16.00px;line-height:16.00px;color:#0000ff;transform:translate(9.84px,8.48px) scale(1.0000,1.0400)">(kraj lahko izberete v meniju)</div>
<div class="t" style="font-size:27.20px;line-height:27.20px;color:#0000ff;transform:translate(398.63px,15.85px) scale(0.9950,1.0500)">Ljubljana 14 dni</div>
<div class="t" style="font-size:16.00px;line-height:16.00px;color:#0000ff;transform:translate(860.72px,8.48px) scale(0.9935,1.0400)">Zadnja posodobitev: 03.03.2026 - 08:24</div>
<div class="t" style="font-size:20.61px;line-height:20.61px;color:#000;transform:translate(54.81px,90.00px) scale(1.1603,1.0000)">tor</div>
<div class="t" style="font-size:20.61px;line-height:20.61px;color:#000;transform:translate(41.38px,112.00px) scale(1.0721,1.0000)">03.03</div>
<div class="t" style="font-size:26.50px;line-height:26.50px;color:#cc0000;transform:translate(47.85px,199.00px) scale(1.0433,1.0000)">15°</div>
<div class="t" style="font-size:26.50px;line-height:26.50px;color:#1e90ff;transform:translate(56.46px,227.00px) scale(1.0175,1.0000)">3°</div>
<div class="t" style="font-size:20.61px;line-height:20.61px;color:#000;transform:translate(133.27px,90.00px) scale(1.0224,1.0000)">sre</div>
<div class="t" style="font-size:20.61px;line-height:20.61px;color:#000;transform:translate(120.24px,112.00px) scale(1.0721,1.0000)">04.03</div>
<div class="t" style="font-size:26.50px;line-height:26.50px;color:#cc0000;transform:translate(126.77px,199.00px) scale(1.0433,1.0000)">15°</div>
<div class="t" style="font-size:26.50px;line-height:26.50px;color:#1e90ff;transform:translate(135.38px,227.00px) scale(1.0175,1.0000)">3°</div>
<div class="t" style="font-size:20.61px;line-height:20.61px;color:#000;transform:translate(211.43px,90.00px) scale(1.0748,1.0000)">čet</div>
<div class="t" style="font-size:20.61px;line-height:20.61px;color:#000;transform:translate(199.10px,112.00px) scale(1.0721,1.0000)">05.03</div>
<div class="t" style="font-size:26.50px;line-height:26.50px;color:#cc0000;transform:translate(205.68px,199.00px) scale(1.0433,1.0000)">15°</div>
<div class="t" style="font-size:26.50px;line-height:26.50px;color:#1e90ff;transform:translate(214.29px,227.00px) scale(1.0175,1.0000)">3°</div>
<div class="t" style="font-size:20.61px;line-height:20.61px;color:#000;transform:translate(289.04px,90.00px) scale(1.1016,1.0000)">pet</div>
<div class="t" style="font-size:20.61px;line-height:20.61px;color:#000;transform:translate(277.96px,112.00px) scale(1.0721,1.0000)">06.03</div>
<div class="t" style="font-size:26.50px;line-height:26.50px;color:#cc0000;transform:translate(284.60px,199.00px) scale(1.0433,1.0000)">16°</div>
<div class="t" style="font-size:26.50px;line-height:26.50px;color:#1e90ff;transform:translate(292.79px,227.00px) scale(1.0404,1.0000)">2°</div>
<div class="t" style="font-size:20.61px;line-height:20.61px;color:#cc0000;transform:translate(367.64px,90.00px) scale(1.0167,1.0000)">sob</div>
<div class="t" style="font-size:20.61px;line-height:20.61px;color:#cc0000;transform:translate(356.82px,112.00px) scale(1.0721,1.0000)">07.03</div>
<div class="t" style="font-size:26.50px;line-height:26.50px;color:#cc0000;transform:translate(363.51px,199.00px) scale(1.0433,1.0000)">16°</div>
<div class="t" style="font-size:26.50px;line-height:26.50px;color:#1e90ff;transform:translate(372.12px,227.00px) scale(1.0175,1.0000)">3°</div>
<div class="t" style="font-size:20.61px;line-height:20.61px;color:#cc0000;transform:translate(445.26px,90.00px) scale(1.0480,1.0000)">ned</div>
<div class="t" style="font-size:20.61px;line-height:20.61px;color:#cc0000;transform:translate(435.68px,112.00px) scale(1.0721,1.0000)">08.03</div>
<div class="t" style="font-size:26.50px;line-height:26.50px;color:#cc0000;transform:translate(442.43px,199.00px) scale(1.0433,1.0000)">15°</div>
<div class="t" style="font-size:26.50px;line-height:26.50px;color:#1e90ff;transform:translate(451.04px,227.00px) scale(1.0175,1.0000)">3°</div>
<div class="t" style="font-size:20.61px;line-height:20.61px;color:#000;transform:translate(524.06px,90.00px) scale(1.0542,1.0000)">pon</div>
<div class="t" style="font-size:20.61px;line-height:20.61px;color:#000;transform:translate(514.54px,112.00px) scale(1.0721,1.0000)">09.03</div>
<div class="t" style="font-size:26.50px;line-height:26.50px;color:#cc0000;transform:translate(521.34px,199.00px) scale(1.0433,1.0000)">15°</div>
<div class="t" style="font-size:26.50px;line-height:26.50px;color:#1e90ff;transform:translate(529.95px,227.00px) scale(1.0175,1.0000)">3°</div>
<div class="t" style="font-size:20.61px;line-height:20.61px;color:#000;transform:translate(607.11px,90.00px) scale(1.1603,1.0000)">tor</div>
<div class="t" style="font-size:20.61px;line-height:20.61px;color:#000;transform:translate(592.91px,112.00px) scale(1.0740,1.0000)">10.03</div>
<div class="t" style="font-size:26.50px;line-height:26.50px;color:#cc0000;transform:translate(600.26px,199.00px) scale(1.0433,1.0000)">14°</div>
<div class="t" style="font-size:26.50px;line-height:26.50px;color:#1e90ff;transform:translate(608.45px,227.00px) scale(1.0404,1.0000)">2°</div>
<div class="t" style="font-size:20.61px;line-height:20.61px;color:#000;transform:translate(685.57px,90.00px) scale(1.0224,1.0000)">sre</div>
<div class="t" style="font-size:20.61px;line-height:20.61px;color:#000;transform:translate(671.71px,112.00px) scale(1.1114,1.0000)">11.03</div>
<div class="t" style="font-size:26.50px;line-height:26.50px;color:#cc0000;transform:translate(679.17px,199.00px) scale(1.0433,1.0000)">15°</div>
<div class="t" style="font-size:26.50px;line-height:26.50px;color:#1e90ff;transform:translate(687.36px,227.00px) scale(1.0404,1.0000)">2°</div>
<div class="t" style="font-size:20.61px;line-height:20.61px;color:#000;transform:translate(763.73px,90.00px) scale(1.0748,1.0000)">čet</div>
<div class="t" style="font-size:20.61px;line-height:20.61px;color:#000;transform:translate(750.63px,112.00px) scale(1.0740,1.0000)">12.03</div>
<div class="t" style="font-size:26.50px;line-height:26.50px;color:#cc0000;transform:translate(758.09px,199.00px) scale(1.0433,1.0000)">14°</div>
<div class="t" style="font-size:26.50px;line-height:26.50px;color:#1e90ff;transform:translate(766.70px,227.00px) scale(1.0175,1.0000)">3°</div>
<div class="t" style="font-size:20.61px;line-height:20.61px;color:#000;transform:translate(841.34px,90.00px) scale(1.1016,1.0000)">pet</div>
<div class="t" style="font-size:20.61px;line-height:20.61px;color:#000;transform:translate(829.49px,112.00px) scale(1.0740,1.0000)">13.03</div>
<div class="t" style="font-size:26.50px;line-height:26.50px;color:#cc0000;transform:translate(837.00px,199.00px) scale(1.0433,1.0000)">13°</div>
<div class="t" style="font-size:26.50px;line-height:26.50px;color:#1e90ff;transform:translate(845.79px,227.00px) scale(1.0252,1.0000)">4°</div>
<div class="t" style="font-size:20.61px;line-height:20.61px;color:#cc0000;transform:translate(919.94px,90.00px) scale(1.0167,1.0000)">sob</div>
<div class="t" style="font-size:20.61px;line-height:20.61px;color:#cc0000;transform:translate(908.35px,112.00px) scale(1.0740,1.0000)">14.03</div>
<div class="t" style="font-size:26.50px;line-height:26.50px;color:#cc0000;transform:translate(915.92px,199.00px) scale(1.0433,1.0000)">14°</div>
<div class="t" style="font-size:26.50px;line-height:26.50px;color:#1e90ff;transform:translate(924.53px,227.00px) scale(1.0175,1.0000)">3°</div>
<div class="t" style="font-size:20.61px;line-height:20.61px;color:#cc0000;transform:translate(997.56px,90.00px) scale(1.0480,1.0000)">ned</div>
<div class="t" style="font-size:20.61px;line-height:20.61px;color:#cc0000;transform:translate(987.21px,112.00px) scale(1.0740,1.0000)">15.03</div>
<div class="t" style="font-size:26.50px;line-height:26.50px;color:#cc0000;transform:translate(994.83px,199.00px) scale(1.0433,1.0000)">12°</div>
<div class="t" style="font-size:26.50px;line-height:26.50px;color:#1e90ff;transform:translate(1003.44px,227.00px) scale(1.0175,1.0000)">3°</div>
<div class="t" style="font-size:20.61px;line-height:20.61px;color:#000;transform:translate(1076.36px,90.00px) scale(1.0542,1.0000)">pon</div>
<div class="t" style="font-size:20.61px;line-height:20.61px;color:#000;transform:translate(1066.07px,112.00px) scale(1.0740,1.0000)">16.03</div>
<div class="t" style="font-size:26.50px;line-height:26.50px;color:#cc0000;transform:translate(1073.75px,199.00px) scale(1.0433,1.0000)">14°</div>
<div class="t" style="font-size:26.50px;line-height:26.50px;color:#1e90ff;transform:translate(1082.36px,227.00px) scale(1.0175,1.0000)">3°</div>
<div class="t" style="font-size:24.00px;line-height:24.00px;color:#000;transform:translate(487.82px,387.20px) scale(0.9935,1.0400)">Temperatura (°C)</div>
<div class="t" style="font-size:20.61px;line-height:20.61px;color:#000;transform:translate(39.90px,414.00px) scale(1.0659,1.0000)">20</div>
<div class="t" style="font-size:20.61px;line-height:20.61px;color:#000;transform:translate(40.47px,455.00px) scale(1.0398,1.0000)">15</div>
<div class="t" style="font-size:20.61px;line-height:20.61px;color:#000;transform:translate(40.34px,497.00px) scale(1.0593,1.0000)">10</div>
<div class="t" style="font-size:20.61px;line-height:20.61px;color:#000;transform:translate(53.79px,538.00px) scale(0.9621,1.0000)">5</div>
<div class="t" style="font-size:20.61px;line-height:20.61px;color:#000;transform:translate(53.66px,580.00px) scale(1.0022,1.0000)">0</div>
<div class="t" style="font-size:19.30px;line-height:19.30px;color:#0000ff;-webkit-text-stroke:0.3px #0000ff;transform:translate(749.61px,467.52px) scale(1.0000,1.0300)">© vreme.us & vreme.pro</div>
<div class="t" style="font-size:24.00px;line-height:24.00px;color:#000;transform:translate(338.59px,647.20px) scale(0.9925,1.0400)">Količina padavin (mm) / Možnost padavin (%)</div>
<div class="t" style="font-size:20.61px;line-height:20.61px;color:#000;transform:translate(54.77px,676.00px) scale(1.1603,1.0000)">tor</div>
<div class="t" style="font-size:26.50px;line-height:26.50px;color:#58d7e3;transform:translate(51.68px,905.00px) scale(0.9585,1.0000)">5%</div>
<div class="t" style="font-size:20.61px;line-height:20.61px;color:#000;transform:translate(133.19px,676.00px) scale(1.0224,1.0000)">sre</div>
<div class="t" style="font-size:26.50px;line-height:26.50px;color:#3398d0;transform:translate(122.06px,905.00px) scale(0.9871,1.0000)">15%</div>
<div class="t" style="font-size:20.61px;line-height:20.61px;color:#000;transform:translate(211.31px,676.00px) scale(1.0748,1.0000)">čet</div>
<div class="t" style="font-size:26.50px;line-height:26.50px;color:#58d7e3;transform:translate(209.10px,905.00px) scale(0.9652,1.0000)">0%</div>
<div class="t" style="font-size:20.61px;line-height:20.61px;color:#000;transform:translate(288.88px,676.00px) scale(1.1016,1.0000)">pet</div>
<div class="t" style="font-size:26.50px;line-height:26.50px;color:#58d7e3;transform:translate(287.87px,905.00px) scale(0.9652,1.0000)">0%</div>
<div class="t" style="font-size:20.61px;line-height:20.61px;color:#000;transform:translate(367.44px,676.00px) scale(1.0167,1.0000)">sob</div>
<div class="t" style="font-size:26.50px;line-height:26.50px;color:#58d7e3;transform:translate(366.64px,905.00px) scale(0.9652,1.0000)">0%</div>
<div class="t" style="font-size:20.61px;line-height:20.61px;color:#000;transform:translate(445.02px,676.00px) scale(1.0480,1.0000)">ned</div>
<div class="t" style="font-size:26.50px;line-height:26.50px;color:#58d7e3;transform:translate(445.53px,905.00px) scale(0.9585,1.0000)">5%</div>
<div class="t" style="font-size:20.61px;line-height:20.61px;color:#000;transform:translate(523.78px,676.00px) scale(1.0542,1.0000)">pon</div>
<div class="t" style="font-size:26.50px;line-height:26.50px;color:#58d7e3;transform:translate(524.30px,905.00px) scale(0.9585,1.0000)">5%</div>
<div class="t" style="font-size:20.61px;line-height:20.61px;color:#000;transform:translate(606.79px,676.00px) scale(1.1603,1.0000)">tor</div>
<div class="t" style="font-size:26.50px;line-height:26.50px;color:#58d7e3;transform:translate(594.68px,905.00px) scale(0.9871,1.0000)">10%</div>
<div class="t" style="font-size:20.61px;line-height:20.61px;color:#000;transform:translate(685.21px,676.00px) scale(1.0224,1.0000)">sre</div>
<div class="t" style="font-size:26.50px;line-height:26.50px;color:#3398d0;transform:translate(673.45px,905.00px) scale(0.9871,1.0000)">15%</div>
<div class="t" style="font-size:20.61px;line-height:20.61px;color:#000;transform:translate(763.33px,676.00px) scale(1.0748,1.0000)">čet</div>
<div class="t" style="font-size:26.50px;line-height:26.50px;color:#3398d0;transform:translate(752.52px,905.00px) scale(0.9906,1.0000)">20%</div>
<div class="t" style="font-size:20.61px;line-height:20.61px;color:#000;transform:translate(840.90px,676.00px) scale(1.1016,1.0000)">pet</div>
<div class="t" style="font-size:26.50px;line-height:26.50px;color:#3398d0;transform:translate(831.29px,905.00px) scale(0.9906,1.0000)">25%</div>
<div class="t" style="font-size:20.61px;line-height:20.61px;color:#000;transform:translate(919.46px,676.00px) scale(1.0167,1.0000)">sob</div>
<div class="t" style="font-size:26.50px;line-height:26.50px;color:#3398d0;transform:translate(910.45px,905.00px) scale(0.9807,1.0000)">30%</div>
<div class="t" style="font-size:20.61px;line-height:20.61px;color:#000;transform:translate(997.04px,676.00px) scale(1.0480,1.0000)">ned</div>
<div class="t" style="font-size:26.50px;line-height:26.50px;color:#3398d0;transform:translate(989.38px,905.00px) scale(0.9846,1.0000)">40%</div>
<div class="t" style="font-size:20.61px;line-height:20.61px;color:#000;transform:translate(1075.80px,676.00px) scale(1.0542,1.0000)">pon</div>
<div class="t" style="font-size:26.50px;line-height:26.50px;color:#3398d0;transform:translate(1068.15px,905.00px) scale(0.9846,1.0000)">45%</div>
<div class="t" style="font-size:20.61px;line-height:20.61px;color:#000;transform:translate(20.88px,745.00px) scale(1.0821,1.0000)">0.04</div>
<div class="t" style="font-size:20.61px;line-height:20.61px;color:#000;transform:translate(21.69px,816.00px) scale(1.0729,1.0000)">0.02</div>
<div class="t" style="font-size:20.61px;line-height:20.61px;color:#000;transform:translate(21.08px,876.00px) scale(1.0827,1.0000)">0.00</div>
</div>
</body></html>
